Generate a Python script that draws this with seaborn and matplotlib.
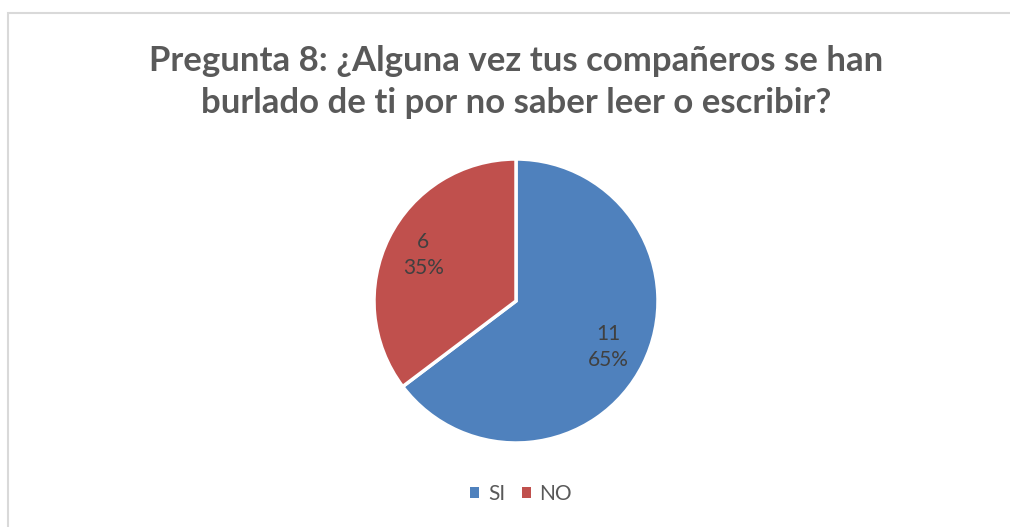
import matplotlib
matplotlib.use("Agg")
import matplotlib.pyplot as plt
from matplotlib.patches import Rectangle, Patch
import seaborn as sns

# datos de la pregunta 8
categorias = ["SI", "NO"]
cantidades = [11, 6]
colores = ["#4F81BD", "#C0504D"]
titulo = "Pregunta 8: ¿Alguna vez tus compañeros se han\nburlado de ti por no saber leer o escribir?"

sns.set_theme(style="white")
plt.rcParams["font.family"] = ["Lato", "DejaVu Sans"]

fig = plt.figure(figsize=(10.1, 5.27), dpi=100)
fig.patch.set_facecolor("white")

# marco gris del grafico
fig.patches.append(Rectangle((8 / 1010, -0.1), 1.1, (527 - 13) / 527 + 0.1,
                             transform=fig.transFigure, fill=False,
                             edgecolor="#D9D9D9", linewidth=1.5))

ax = fig.add_axes([(516 - 142) / 1010, (527 - 443) / 527, 284 / 1010, 284 / 527])
total = sum(cantidades)


def etiqueta(pct):
    n = int(round(pct * total / 100))
    return f"{n}\n{pct:.0f}%"


wedges, textos, autotextos = ax.pie(
    cantidades, colors=colores, startangle=90, counterclock=False,
    autopct=etiqueta, pctdistance=0.73,
    wedgeprops=dict(edgecolor="white", linewidth=2.5),
    textprops=dict(color="#404040", fontsize=15, linespacing=1.35))
ax.set_xlim(-1, 1)
ax.set_ylim(-1, 1)
ax.axis("off")

fig.text(516 / 1010, 1 - 82 / 527, titulo, ha="center", va="center",
         fontsize=25, fontweight="bold", color="#595959", linespacing=1.4)

handles = [Patch(facecolor=c, edgecolor="none") for c in colores]
fig.legend(handles, categorias, loc="center", bbox_to_anchor=(521 / 1010, 1 - 494 / 527),
           ncol=2, frameon=False, fontsize=15, labelcolor="#595959",
           handlelength=0.45, handleheight=0.45, handletextpad=0.4, columnspacing=0.8)

fig.savefig("out.png", dpi=100, facecolor="white")
